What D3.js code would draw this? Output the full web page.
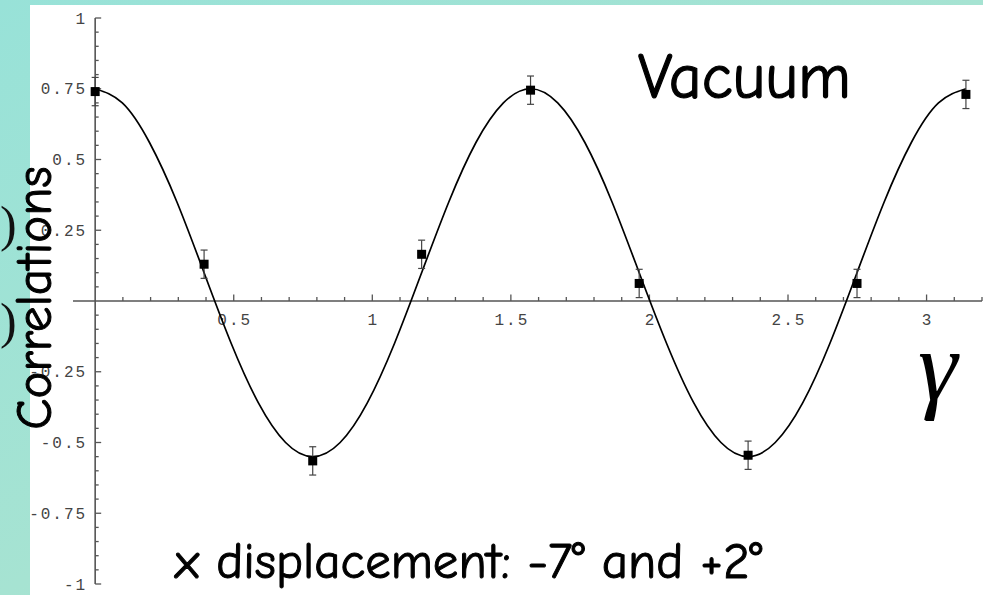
<!DOCTYPE html>
<html>
<head>
<meta charset="utf-8">
<script src="https://cdn.jsdelivr.net/npm/d3@7"></script>
<style>
  html, body { margin: 0; padding: 0; background: #fff; }
  svg { display: block; }
</style>
</head>
<body>
<svg id="chart" width="983" height="595"></svg>
<script>
// Measured correlations vs. analyser angle gamma (radians)
const pointGamma = [0, 0.393, 0.785, 1.178, 1.571, 1.963, 2.356, 2.749, 3.142];
const pointValue = [0.74, 0.13, -0.565, 0.165, 0.745, 0.062, -0.545, 0.062, 0.73];
const pointError = [0.05, 0.05, 0.05, 0.05, 0.05, 0.05, 0.05, 0.05, 0.05];

// Theoretical correlation curve, sampled along gamma
const curveGamma = [0, 0.098, 0.196, 0.295, 0.393, 0.491, 0.589, 0.687, 0.785, 0.884, 0.982,
  1.080, 1.178, 1.276, 1.374, 1.473, 1.571, 1.669, 1.767, 1.865, 1.963, 2.062, 2.160,
  2.258, 2.356, 2.454, 2.553, 2.651, 2.749, 2.847, 2.945, 3.043, 3.142];
const curveValue = [0.75, 0.70, 0.56, 0.35, 0.10, -0.15, -0.36, -0.50, -0.55, -0.50, -0.36,
  -0.15, 0.10, 0.35, 0.56, 0.70, 0.75, 0.70, 0.56, 0.35, 0.10, -0.15, -0.36,
  -0.50, -0.55, -0.50, -0.36, -0.15, 0.10, 0.35, 0.56, 0.70, 0.75];

// Axis ticks
const xMajorTicks = [0.5, 1, 1.5, 2, 2.5, 3];
const xTickLabels = ["0.5", "1", "1.5", "2", "2.5", "3"];
const yMajorTicks = [1, 0.75, 0.5, 0.25, -0.25, -0.5, -0.75, -1];
const yTickLabels = ["1", "0.75", "0.5", "0.25", "-0.25", "-0.5", "-0.75", "-1"];

const svg = d3.select("#chart");
const W = 983, H = 595;

// Background: teal frame with white panel
const defs = svg.append("defs");
const grad = defs.append("linearGradient").attr("id", "bg")
  .attr("x1", "0").attr("y1", "0").attr("x2", "1").attr("y2", "1");
grad.append("stop").attr("offset", "0").attr("stop-color", "#98e2d8");
grad.append("stop").attr("offset", "0.5").attr("stop-color", "#a6e3d2");
grad.append("stop").attr("offset", "1").attr("stop-color", "#b6e6c9");
svg.append("rect").attr("width", W).attr("height", H).attr("fill", "url(#bg)");

// Partly hidden brackets behind the panel
svg.append("g").attr("font-family", "'Liberation Serif', serif").attr("font-size", 50)
  .attr("fill", "#111")
  .selectAll("text").data([241, 338]).join("text")
  .attr("x", 0).attr("y", d => d).text(")");

svg.append("rect").attr("x", 30).attr("y", 5).attr("width", W - 30).attr("height", H - 5)
  .attr("fill", "#fff");

// Scales
const x = d3.scaleLinear().domain([-0.08, 3.2]).range([73, 982]);
const y = d3.scaleLinear().domain([-1, 1]).range([584, 18]);

const axisColor = "#555";
const g = svg.append("g");

// x axis line and ticks (pointing up)
g.append("line").attr("x1", x(-0.08)).attr("x2", x(3.2))
  .attr("y1", y(0)).attr("y2", y(0))
  .attr("stroke", axisColor).attr("stroke-width", 1.6);
const xMinor = d3.range(1, 33).map(i => i / 10).filter(v => !xMajorTicks.some(m => Math.abs(m - v) < 1e-6));
g.selectAll(".xminor").data(xMinor).join("line")
  .attr("x1", d => x(d)).attr("x2", d => x(d))
  .attr("y1", y(0)).attr("y2", y(0) - 4)
  .attr("stroke", axisColor).attr("stroke-width", 1.3);
g.selectAll(".xmajor").data(xMajorTicks).join("line")
  .attr("x1", d => x(d)).attr("x2", d => x(d))
  .attr("y1", y(0)).attr("y2", y(0) - 6.5)
  .attr("stroke", axisColor).attr("stroke-width", 1.3);

// y axis line and ticks (pointing right)
g.append("line").attr("x1", x(0)).attr("x2", x(0))
  .attr("y1", y(1)).attr("y2", y(-1))
  .attr("stroke", axisColor).attr("stroke-width", 1.6);
const yMinor = d3.range(-20, 21).map(i => i / 20).filter(v => Math.abs(v) > 1e-6 && !yMajorTicks.some(m => Math.abs(m - v) < 1e-6));
g.selectAll(".yminor").data(yMinor).join("line")
  .attr("x1", x(0)).attr("x2", x(0) + 3.5)
  .attr("y1", d => y(d)).attr("y2", d => y(d))
  .attr("stroke", axisColor).attr("stroke-width", 1.3);
g.selectAll(".ymajor").data(yMajorTicks).join("line")
  .attr("x1", x(0)).attr("x2", x(0) + 6)
  .attr("y1", d => y(d)).attr("y2", d => y(d))
  .attr("stroke", axisColor).attr("stroke-width", 1.3);

// Tick labels
const tickFont = { family: "'Liberation Mono', 'DejaVu Sans Mono', monospace", size: 16, spacing: 2 };
g.selectAll(".xlab").data(xMajorTicks).join("text")
  .attr("x", d => x(d) + tickFont.spacing / 2).attr("y", y(0) + 24)
  .attr("text-anchor", "middle")
  .attr("font-family", tickFont.family).attr("font-size", tickFont.size)
  .attr("letter-spacing", tickFont.spacing).attr("fill", "#444")
  .text((d, i) => xTickLabels[i]);
g.selectAll(".ylab").data(yMajorTicks).join("text")
  .attr("x", x(0) - 10 + tickFont.spacing).attr("y", d => y(d) + 5.5)
  .attr("text-anchor", "end")
  .attr("font-family", tickFont.family).attr("font-size", tickFont.size)
  .attr("letter-spacing", tickFont.spacing).attr("fill", "#444")
  .text((d, i) => yTickLabels[i]);

// Theory curve
const curvePts = curveGamma.map((c, i) => [c, curveValue[i]]);
g.append("path").datum(curvePts)
  .attr("d", d3.line().x(d => x(d[0])).y(d => y(d[1])).curve(d3.curveNatural))
  .attr("fill", "none").attr("stroke", "#000").attr("stroke-width", 1.7);

// Error bars and data squares
const pts = pointGamma.map((c, i) => ({ g: c, v: pointValue[i], e: pointError[i] }));
const eb = g.append("g").attr("stroke", "#444").attr("stroke-width", 1.2);
eb.selectAll(".bar").data(pts).join("line")
  .attr("x1", d => x(d.g)).attr("x2", d => x(d.g))
  .attr("y1", d => y(d.v + d.e)).attr("y2", d => y(d.v - d.e));
eb.selectAll(".capTop").data(pts).join("line")
  .attr("x1", d => x(d.g) - 3.5).attr("x2", d => x(d.g) + 3.5)
  .attr("y1", d => y(d.v + d.e)).attr("y2", d => y(d.v + d.e));
eb.selectAll(".capBot").data(pts).join("line")
  .attr("x1", d => x(d.g) - 3.5).attr("x2", d => x(d.g) + 3.5)
  .attr("y1", d => y(d.v - d.e)).attr("y2", d => y(d.v - d.e));
g.selectAll(".sq").data(pts).join("rect")
  .attr("x", d => x(d.g) - 4.5).attr("y", d => y(d.v) - 4.5)
  .attr("width", 9).attr("height", 9).attr("fill", "#000");

// Annotations
const handFont = "'Comic Sans MS', 'Comic Neue', Lato, sans-serif";
svg.append("text").attr("x", 638).attr("y", 98)
  .attr("font-family", handFont).attr("font-size", 64).attr("fill", "#000")
  .attr("stroke", "#000").attr("stroke-width", 1.2)
  .text("Vacuum");
svg.append("text").attr("x", 175).attr("y", 578)
  .attr("font-family", handFont).attr("font-size", 51).attr("fill", "#000")
  .attr("stroke", "#000").attr("stroke-width", 1)
  .text("x displacement: -7° and +2°");
svg.append("text").attr("transform", "translate(51,298) rotate(-90)")
  .attr("text-anchor", "middle")
  .attr("font-family", handFont).attr("font-size", 51).attr("fill", "#000")
  .attr("stroke", "#000").attr("stroke-width", 1)
  .text("Correlations");
svg.append("text").attr("x", 918).attr("y", 400)
  .attr("font-family", "'Liberation Serif', 'Times New Roman', serif")
  .attr("font-style", "italic").attr("font-size", 100).attr("fill", "#000")
  .text("γ");
</script>
</body>
</html>
